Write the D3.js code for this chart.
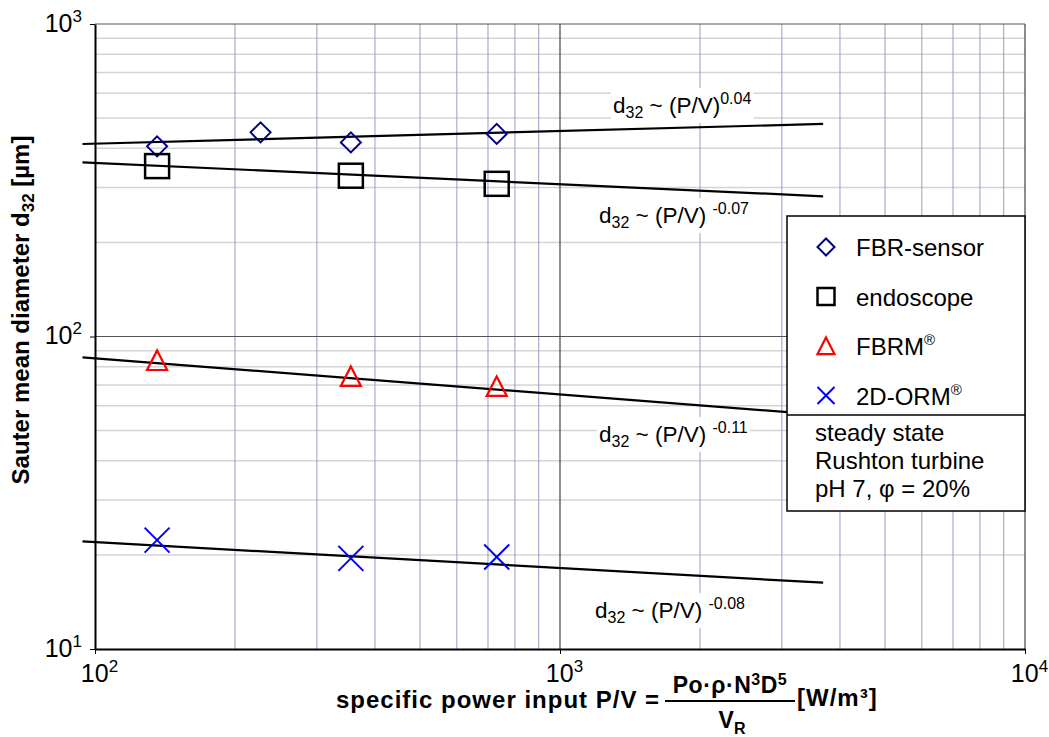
<!DOCTYPE html>
<html>
<head>
<meta charset="utf-8">
<script src="https://cdn.jsdelivr.net/npm/d3@7"></script>
<style>
  body { margin: 0; background: #fff; }
  svg { font-family: "Liberation Sans", Arial, sans-serif; }
</style>
</head>
<body>
<svg id="chart" width="1049" height="737"></svg>
<script>
var powerFBR = [136, 227, 355, 731]
var dFBR = [406, 450, 418, 445]
var powerEndo = [136, 355, 731]
var dEndo = [351, 327, 308]
var powerFBRM = [136, 355, 731]
var dFBRM = [83.8, 74.5, 69.2]
var powerORM = [136, 355, 731]
var dORM = [22.3, 19.5, 19.7]

// power-law fits: start and end of each straight line on log-log axes
var fitPower = [94, 3680]
var fitFBR = [413, 479]
var fitEndo = [361, 281]
var fitFBRM = [85.8, 56.1]
var fitORM = [22.1, 16.3]

var xTicks = [100, 1000, 10000]
var yTicks = [10, 100, 1000]
var xExp = ["2", "3", "4"]
var yExp = ["1", "2", "3"]

var svg = d3.select("#chart")
var margin = { top: 24, right: 24, bottom: 88, left: 95 }
var width = 1049 - margin.left - margin.right,
  height = 737 - margin.top - margin.bottom

var x = d3.scaleLog().domain([100, 10000]).range([0, width])
var y = d3.scaleLog().domain([10, 1000]).range([height, 0])

var g = svg.append("g")
  .attr("transform", "translate(" + margin.left + "," + margin.top + ")")

// minor grid
var minorX = [], minorY = []
;[100, 1000].forEach(function (b) { for (var k = 2; k <= 9; k++) minorX.push(b * k) })
;[10, 100].forEach(function (b) { for (var k = 2; k <= 9; k++) minorY.push(b * k) })

g.append("g").selectAll("line").data(minorY).enter().append("line")
  .attr("x1", 0).attr("x2", width)
  .attr("y1", d => y(d)).attr("y2", d => y(d))
  .style("stroke", "#d4d4d4").style("stroke-width", 1.5)

g.append("g").selectAll("line").data(minorX).enter().append("line")
  .attr("y1", 0).attr("y2", height)
  .attr("x1", d => x(d)).attr("x2", d => x(d))
  .style("stroke", "#9a9ac6").style("stroke-width", 1)

// major grid
g.append("g").selectAll("line").data([100, 1000]).enter().append("line")
  .attr("x1", 0).attr("x2", width)
  .attr("y1", d => y(d)).attr("y2", d => y(d))
  .style("stroke", "#555").style("stroke-width", 1.2)

g.append("g").selectAll("line").data([1000, 10000]).enter().append("line")
  .attr("y1", 0).attr("y2", height)
  .attr("x1", d => x(d)).attr("x2", d => x(d))
  .style("stroke", "#444").style("stroke-width", 1.2)

// axes
var xAxis = d3.axisBottom(x).tickValues(xTicks).tickFormat("").tickSize(5).tickSizeOuter(0)
var yAxis = d3.axisLeft(y).tickValues(yTicks).tickFormat("").tickSize(5).tickSizeOuter(0)

var gx = g.append("g").attr("transform", "translate(0," + height + ")").call(xAxis)
var gy = g.append("g").call(yAxis)
gx.select(".domain").style("stroke", "#000").style("stroke-width", 2)
gy.select(".domain").style("stroke", "#000").style("stroke-width", 2)

gx.selectAll(".tick").each(function (d, i) {
  var t = d3.select(this).append("text")
    .attr("x", 4).attr("y", 33)
    .attr("text-anchor", "middle")
    .style("fill", "#000").style("font-size", "25px")
  t.append("tspan").text("10")
  t.append("tspan").attr("dy", -10).style("font-size", "17px").text(xExp[i])
})
gy.selectAll(".tick").each(function (d, i) {
  var t = d3.select(this).append("text")
    .attr("x", -13).attr("y", 7)
    .attr("text-anchor", "end")
    .style("fill", "#000").style("font-size", "25px")
  t.append("tspan").text("10")
  t.append("tspan").attr("dy", -10).style("font-size", "17px").text(yExp[i])
})

// fit lines
var line = d3.line().x(d => x(d[0])).y(d => y(d[1]))
;[fitFBR, fitEndo, fitFBRM, fitORM].forEach(function (f) {
  g.append("path")
    .datum(fitPower.map((p, i) => [p, f[i]]))
    .attr("d", line)
    .style("fill", "none").style("stroke", "#000").style("stroke-width", 2.2)
})

// fit labels with white backing
var labels = [
  { x: 613, y: 113, exp: "0.04", gap: "" },
  { x: 599, y: 223, exp: "-0.07", gap: " " },
  { x: 599, y: 442, exp: "-0.11", gap: " " },
  { x: 595, y: 618, exp: "-0.08", gap: " " }
]
labels.forEach(function (l) {
  var lg = svg.append("g")
  var bg = lg.append("rect").style("fill", "#fff")
  var t = lg.append("text").attr("x", l.x).attr("y", l.y).style("font-size", "22.5px")
  t.append("tspan").text("d")
  t.append("tspan").attr("dy", 5).style("font-size", "16px").text("32")
  t.append("tspan").attr("dy", -5).text(" ~ (P/V)" + l.gap)
  t.append("tspan").attr("dy", -9).style("font-size", "16px").text(l.exp)
  var b = t.node().getBBox()
  bg.attr("x", b.x - 2).attr("y", b.y - 2).attr("width", b.width + 4).attr("height", b.height + 4)
})

// markers
function diamond(sel, s) {
  sel.append("path").attr("d", "M0," + (-s) + "L" + s + ",0L0," + s + "L" + (-s) + ",0Z")
    .style("fill", "none").style("stroke", "#00008b").style("stroke-width", 2)
}
function square(sel, s) {
  sel.append("rect").attr("x", -s).attr("y", -s).attr("width", 2 * s).attr("height", 2 * s)
    .style("fill", "none").style("stroke", "#000").style("stroke-width", 2.5)
}
function triangle(sel, s) {
  sel.append("path").attr("d", "M0," + (-s) + "L" + s + "," + s * 0.95 + "L" + (-s) + "," + s * 0.95 + "Z")
    .style("fill", "none").style("stroke", "#ff0000").style("stroke-width", 2.2)
}
function cross(sel, s) {
  sel.append("path").attr("d", "M" + (-s) + "," + (-s) + "L" + s + "," + s + "M" + (-s) + "," + s + "L" + s + "," + (-s))
    .style("fill", "none").style("stroke", "#0000ff").style("stroke-width", 2)
}

function drawSeries(px, dy, fn, s) {
  px.forEach(function (p, i) {
    g.append("g").attr("transform", "translate(" + x(p) + "," + y(dy[i]) + ")").call(fn, s)
  })
}
drawSeries(powerFBR, dFBR, diamond, 10)
drawSeries(powerEndo, dEndo, square, 12)
drawSeries(powerFBRM, dFBRM, triangle, 10)
drawSeries(powerORM, dORM, cross, 12.5)

// legend
var leg = svg.append("g")
leg.append("rect").attr("x", 787).attr("y", 216).attr("width", 238).attr("height", 295)
  .style("fill", "#fff").style("stroke", "#000").style("stroke-width", 1.5)
leg.append("line").attr("x1", 787).attr("x2", 1025).attr("y1", 415).attr("y2", 415)
  .style("stroke", "#000").style("stroke-width", 1.5)

var legItems = [
  { name: "FBR-sensor", sup: "", fn: diamond, s: 8.5 },
  { name: "endoscope", sup: "", fn: square, s: 8.5 },
  { name: "FBRM", sup: "®", fn: triangle, s: 8.5 },
  { name: "2D-ORM", sup: "®", fn: cross, s: 8.5 }
]
legItems.forEach(function (it, i) {
  var cy = 247 + i * 49.5
  leg.append("g").attr("transform", "translate(826," + cy + ")").call(it.fn, it.s)
  var t = leg.append("text").attr("x", 856).attr("y", cy + 9).style("font-size", "24px")
  t.append("tspan").text(it.name)
  if (it.sup) t.append("tspan").attr("dy", -10).style("font-size", "15px").text(it.sup)
})
;["steady state", "Rushton turbine", "pH 7, \u03c6 = 20%"].forEach(function (s, i) {
  leg.append("text").attr("x", 815).attr("y", 441 + i * 28).style("font-size", "24px").text(s)
})

// y title
var yt = svg.append("text")
  .attr("transform", "translate(29,310) rotate(-90)")
  .attr("text-anchor", "middle")
  .style("font-size", "24px").style("font-weight", "bold")
yt.append("tspan").text("Sauter mean diameter d")
yt.append("tspan").attr("dy", 5).style("font-size", "17px").text("32")
yt.append("tspan").attr("dy", -5).text(" [\u00b5m]")

// x title
var xt = svg.append("g").style("font-weight", "bold")
xt.append("text").attr("x", 336).attr("y", 708).style("font-size", "24px").style("letter-spacing", "1px")
  .text("specific power input P/V =")
var num = xt.append("text").attr("x", 730).attr("y", 693).attr("text-anchor", "middle")
  .style("font-size", "23px").style("letter-spacing", "0.5px")
num.append("tspan").text("Po\u00b7\u03c1\u00b7N")
num.append("tspan").attr("dy", -8).style("font-size", "16px").text("3")
num.append("tspan").attr("dy", 8).text("D")
num.append("tspan").attr("dy", -8).style("font-size", "16px").text("5")
xt.append("line").attr("x1", 665).attr("x2", 795).attr("y1", 701).attr("y2", 701)
  .style("stroke", "#000").style("stroke-width", 2)
var den = xt.append("text").attr("x", 732).attr("y", 728).attr("text-anchor", "middle").style("font-size", "23px")
den.append("tspan").text("V")
den.append("tspan").attr("dy", 6).style("font-size", "16px").text("R")
xt.append("text").attr("x", 797).attr("y", 706).style("font-size", "24px").style("letter-spacing", "1px").text("[W/m\u00b3]")
</script>
</body>
</html>
